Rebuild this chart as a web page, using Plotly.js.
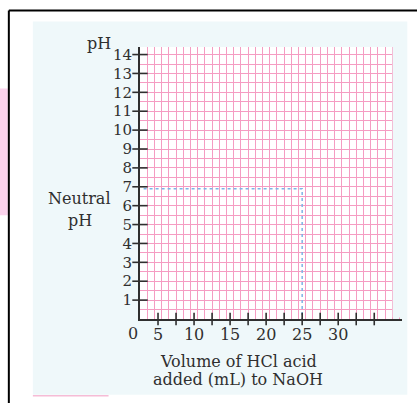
<!DOCTYPE html>
<html>
<head>
<meta charset="utf-8">
<script src="https://cdn.plot.ly/plotly-3.0.1.min.js"></script>
<style>
html,body{margin:0;padding:0;background:#fff;}
#chart{width:417px;height:403px;}
</style>
</head>
<body>
<div id="chart"></div>
<script>
// ---- data ----
var phTicks = [1,2,3,4,5,6,7,8,9,10,11,12,13,14];
var volumeTickMarks = [5,7.5,10,12.5,15,17.5,20,22.5,25,27.5,30,32.5,35];
var volumeLabelVals = [5,10,15,20,25,30];
var volumeLabelText = ['5','10','15','20','25','30'];
var neutralVolume = 25;
var neutralPH = 6.9;
var axisStartVolume = 2.5;
var guideX = [3, neutralVolume, neutralVolume];
var guideY = [neutralPH, neutralPH, 0];

var font = 'DejaVu Serif, Liberation Serif, serif';
var ink = '#2f2f2f';
var gridPink = '#f59cc2';
var pageBlue = '#eff8fa';

var traces = [
  { // neutral guide line
    x: guideX, y: guideY, mode: 'lines', type: 'scatter',
    line: {color: '#7db4e6', width: 1.5, dash: 'dot'},
    hoverinfo: 'skip', showlegend: false
  },
  { // y tick marks crossing the axis
    x: phTicks.map(function(){return axisStartVolume;}), y: phTicks,
    mode: 'markers', type: 'scatter', cliponaxis: false,
    marker: {symbol: 'line-ew', size: 11, color: ink, line: {color: ink, width: 1.6}},
    hoverinfo: 'skip', showlegend: false
  },
  { // x tick marks crossing the axis
    x: volumeTickMarks, y: volumeTickMarks.map(function(){return 0;}),
    mode: 'markers', type: 'scatter', cliponaxis: false,
    marker: {symbol: 'line-ns', size: 9, color: ink, line: {color: ink, width: 1.6}},
    hoverinfo: 'skip', showlegend: false
  }
];

var layout = {
  width: 417, height: 403,
  margin: {l: 140, r: 15.3, t: 46.5, b: 84, pad: 0},
  paper_bgcolor: '#ffffff',
  plot_bgcolor: 'rgba(0,0,0,0)',
  showlegend: false,
  font: {family: font, color: ink, size: 15},
  xaxis: {
    range: [axisStartVolume, 38.85],
    tickmode: 'array', tickvals: volumeLabelVals, ticktext: volumeLabelText,
    ticks: '', showgrid: false, zeroline: false,
    showline: true, linecolor: ink, linewidth: 2,
    tickfont: {family: font, size: 16, color: ink},
    minor: {tickmode: 'linear', tick0: 2.5, dtick: 1, showgrid: true, gridcolor: gridPink, gridwidth: 1, ticks: ''}
  },
  yaxis: {
    range: [0, 14.4],
    tickmode: 'array', tickvals: phTicks,
    ticks: '', ticklabelstandoff: 3,
    showgrid: true, gridcolor: gridPink, gridwidth: 1, zeroline: false,
    showline: true, linecolor: ink, linewidth: 2,
    tickfont: {family: font, size: 15, color: ink},
    minor: {tickmode: 'linear', tick0: 0, dtick: 0.5, showgrid: true, gridcolor: gridPink, gridwidth: 1, ticks: ''}
  },
  shapes: [
    // scanned page background
    {type: 'rect', xref: 'paper', yref: 'paper', x0: -0.4089, x1: 1.0203, y0: -0.2789, y1: 1.0936,
     fillcolor: pageBlue, line: {width: 0}, layer: 'below'},
    // graph paper (white)
    {type: 'rect', xref: 'x', yref: 'y', x0: 2.5, x1: 37.5, y0: 0, y1: 14.4,
     fillcolor: '#ffffff', line: {width: 0}, layer: 'below'},
    // cover grid beyond paper edge
    {type: 'rect', xref: 'x', yref: 'y', x0: 37.55, x1: 38.9, y0: 0.08, y1: 14.45,
     fillcolor: pageBlue, line: {width: 0}, layer: 'above'},
    // pink patch at left edge
    {type: 'rect', xref: 'paper', yref: 'paper', x0: -0.54, x1: -0.5044, y0: 0.3817, y1: 0.8477,
     fillcolor: '#fbd3ec', line: {width: 0}, layer: 'below'},
    // faint pink line at bottom
    {type: 'line', xref: 'paper', yref: 'paper', x0: -0.4089, x1: -0.12, y0: -0.2826, y1: -0.2826,
     line: {color: '#f6bcd6', width: 1.5}, layer: 'below'},
    // black frame: left and top
    {type: 'line', xref: 'paper', yref: 'paper', x0: -0.5006, x1: -0.5006, y0: -0.32, y1: 1.1339,
     line: {color: '#000000', width: 2}},
    {type: 'line', xref: 'paper', yref: 'paper', x0: -0.5006, x1: 1.07, y0: 1.1339, y1: 1.1339,
     line: {color: '#000000', width: 2}}
  ],
  annotations: [
    {text: 'pH', xref: 'paper', yref: 'paper', x: -0.1560, y: 1.012, xanchor: 'center', yanchor: 'middle',
     showarrow: false, font: {family: font, size: 16, color: ink}},
    {text: 'Neutral', xref: 'paper', yref: 'paper', x: -0.2293, y: 0.4440, xanchor: 'center', yanchor: 'middle',
     showarrow: false, font: {family: font, size: 16, color: ink}},
    {text: 'pH', xref: 'paper', yref: 'paper', x: -0.2293, y: 0.3633, xanchor: 'center', yanchor: 'middle',
     showarrow: false, font: {family: font, size: 16, color: ink}},
    {text: '0', xref: 'paper', yref: 'paper', x: -0.0268, y: -0.0550, xanchor: 'center', yanchor: 'middle',
     showarrow: false, font: {family: font, size: 16, color: ink}},
    {text: 'Volume of HCl acid', xref: 'paper', yref: 'paper', x: 0.3745, y: -0.1578, xanchor: 'center', yanchor: 'middle',
     showarrow: false, font: {family: font, size: 16, color: ink}},
    {text: 'added (mL) to NaOH', xref: 'paper', yref: 'paper', x: 0.3745, y: -0.2239, xanchor: 'center', yanchor: 'middle',
     showarrow: false, font: {family: font, size: 16, color: ink}}
  ]
};

Plotly.newPlot('chart', traces, layout, {displayModeBar: false, staticPlot: true});
</script>
</body>
</html>
